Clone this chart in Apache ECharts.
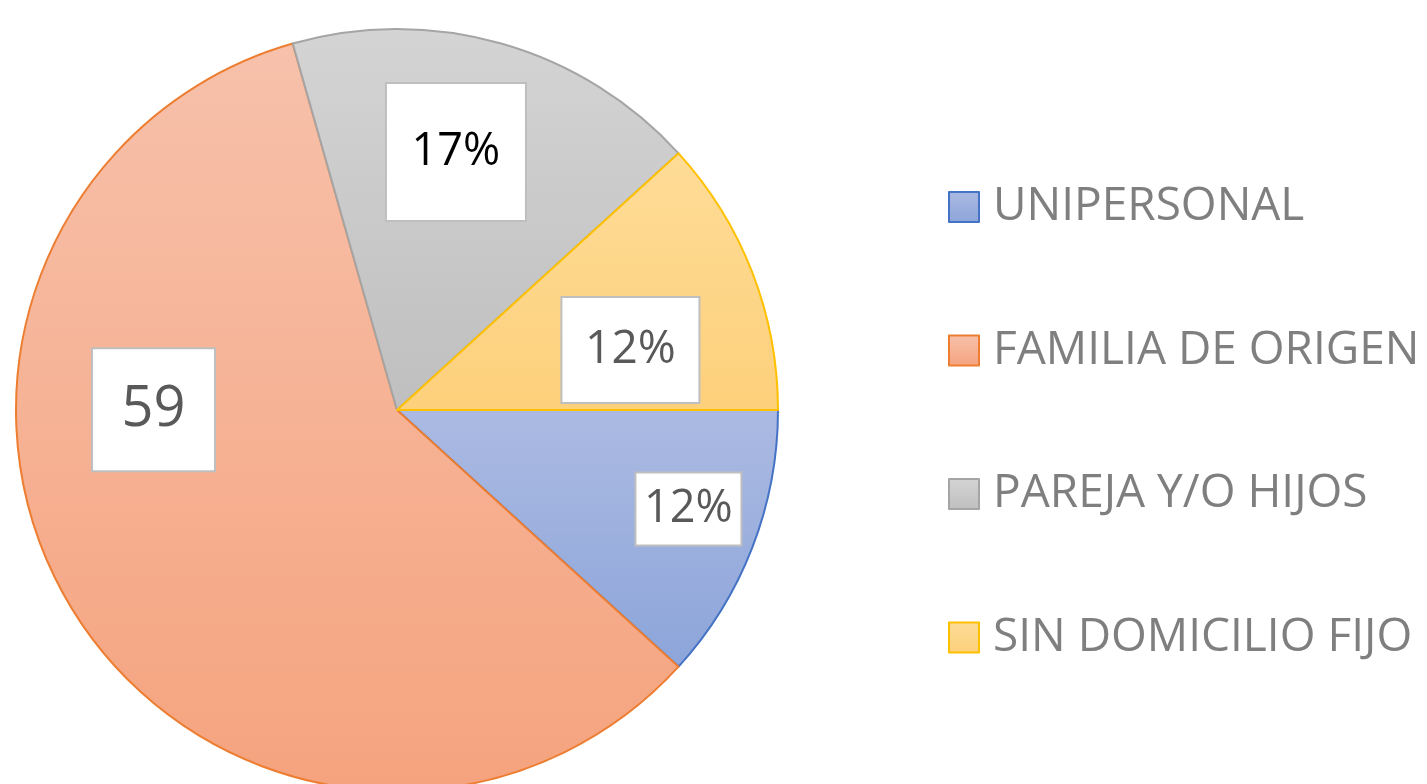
<!DOCTYPE html>
<html>
<head>
<meta charset="utf-8">
<script src="https://cdn.jsdelivr.net/npm/echarts@6/dist/echarts.min.js"></script>
<style>
  html, body { margin: 0; padding: 0; background: #fff; }
  #chart { width: 1427px; height: 784px; }
</style>
</head>
<body>
<div id="chart"></div>
<script>
// datos
var categories = ['UNIPERSONAL', 'FAMILIA DE ORIGEN', 'PAREJA Y/O HIJOS', 'SIN DOMICILIO FIJO'];
var values = [10, 50, 15, 10];
var labelTexts = ['12%', '59', '17%', '12%'];   // tal como aparecen en el grafico

// estilo de cada porción: [arriba, abajo, borde]
var sliceColors = [
  ['#abbae2', '#8da5da', '#4472c4'],
  ['#f7c1ab', '#f5a37e', '#ed7d31'],
  ['#d4d4d4', '#bfbfbf', '#a5a5a5'],
  ['#fedc97', '#fdd07b', '#ffc000']
];
// cajas de etiqueta (ancho, alto, tamaño de letra, color texto) y desplazamiento desde la posicion "inside"
var labelBox = [[108, 73, 45, '#595959'], [125, 123, 56, '#595959'], [142, 138, 45, '#000000'], [140, 106, 46, '#595959']];
var labelShift = [[111, 29], [-79, -102], [6, -72], [53, 10]];

var chart = echarts.init(document.getElementById('chart'));

var pieData = values.map(function (v, i) {
  var c = sliceColors[i];
  var b = labelBox[i];
  var fs = b[2];
  return {
    name: categories[i],
    value: v,
    itemStyle: {
      color: new echarts.graphic.LinearGradient(0, 0, 0, 1, [
        { offset: 0, color: c[0] },
        { offset: 1, color: c[1] }
      ]),
      borderColor: c[2],
      borderWidth: 2
    },
    label: {
      color: b[3],
      fontSize: fs,
      width: b[0] - 4,
      align: 'center',
      lineHeight: fs,
      padding: [(b[1] - fs - 2) / 2, 0]
    }
  };
});

var option = {
  animation: false,
  legend: {
    orient: 'vertical',
    left: 948,
    top: 180,
    padding: 0,
    itemWidth: 30,
    itemHeight: 30,
    itemGap: 89.5,
    icon: 'rect',
    textStyle: {
      fontFamily: 'Open Sans',
      fontSize: 46,
      lineHeight: 54,
      color: '#7f7f7f',
      padding: [0, 0, 0, 9]
    },
    data: categories
  },
  series: [
    {
      type: 'pie',
      center: [397, 410],
      radius: 381,
      startAngle: 0,
      clockwise: true,
      silent: true,
      emphasis: { disabled: true },
      label: {
        show: true,
        position: 'inside',
        fontFamily: 'Open Sans',
        backgroundColor: '#ffffff',
        borderColor: '#bfbfbf',
        borderWidth: 2,
        formatter: function (p) {
          return labelTexts[p.dataIndex];
        }
      },
      labelLine: { show: false },
      labelLayout: function (p) {
        var s = labelShift[p.dataIndex];
        return { dx: s[0], dy: s[1] };
      },
      data: pieData
    }
  ]
};

chart.setOption(option);
</script>
</body>
</html>
